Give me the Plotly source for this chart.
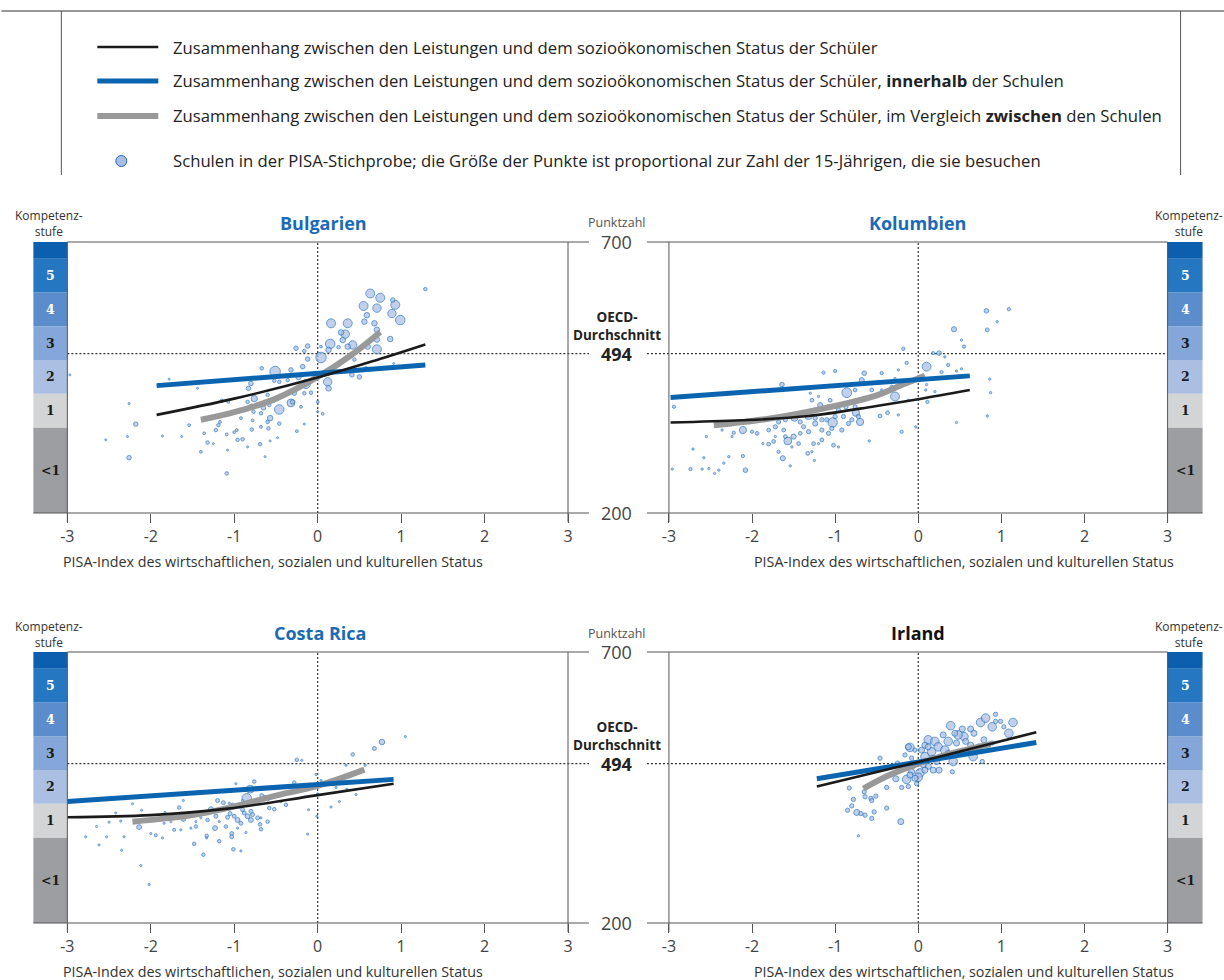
import plotly.graph_objects as go

W, H = 1224, 980
FONT = "Open Sans"

# ---------------- data ----------------
level_bounds = [200, 357.8, 420.1, 482.4, 544.7, 607.0, 669.3, 700]
level_labels = ["<1", "1", "2", "3", "4", "5", ""]
level_colors = ["#9d9ea1", "#d3d4d6", "#abbfe3", "#85a6d8", "#5b8ccb", "#2677c1", "#0b5fae"]
level_text_colors = ["#1a1a1a", "#1a1a1a", "#1a1a1a", "#1a1a1a", "#ffffff", "#ffffff", "#ffffff"]
oecd_mean = 494
x_ticks = [-3, -2, -1, 0, 1, 2, 3]
x_tick_labels = ["-3", "-2", "-1", "0", "1", "2", "3"]

# Bulgarien
bg_x = [0.63, 0.75, 0.93, 0.55, 0.71, 0.89, 0.99, 0.16, 0.36, 0.33, 0.15, 0.42, 0.71, 0.04, -0.51, 0.12, -0.14, -0.46, -0.32,
        0.90, 0.59, 0.56, 0.68, 0.28, 0.71, 0.71, 0.87, 0.30, 0.25, 0.36, 0.60, 0.13, -0.12, -0.26, -0.16, -0.12, 0.04, 0.44,
        0.41, 0.50, 0.13, -0.08, -0.16, -0.28, 0.00, 0.06, 0.00, -0.18, -0.32, -0.23, -0.36, -0.46, -0.52, -0.67, -0.80, -0.83,
        -0.76, -0.60, -0.52, -0.84, -1.15, -1.07, -0.79, -0.72, -0.65, -0.58, -0.30, -0.20, -0.16, -0.25, -0.77, -0.68, -0.57,
        -0.60, -0.46, -0.78, -0.68, -0.59, -0.79, -0.92, -1.17, -1.19, -1.22, -1.36, -1.54, -1.09, -1.00, -0.97, -0.96, -0.90,
        -1.32, -1.25, -0.69, -0.57, -0.48, -0.84, -1.08, -1.40, -1.63, -1.86, -2.28, -2.54, -2.26, -2.18, -2.26, -1.09, -0.63,
        -1.44, -1.78, -2.97, 0.91, 0.58, 1.29]
bg_y = [605, 597, 584, 582, 578, 568, 556, 550, 550, 530, 512, 510, 502, 487, 461, 442, 438, 391, 403,
        593, 565, 553, 550, 533, 538, 520, 521, 519, 506, 507, 507, 501, 508, 504, 499, 484, 507, 483,
        455, 451, 430, 422, 421, 421, 405, 383, 387, 470, 464, 451, 445, 442, 444, 467, 439, 430,
        411, 418, 408, 405, 407, 405, 396, 400, 394, 399, 405, 396, 364, 351, 387, 384, 375,
        368, 365, 371, 359, 356, 354, 375, 368, 362, 353, 347, 362, 345, 349, 353, 335, 336,
        330, 328, 327, 333, 339, 322, 316, 313, 341, 342, 341, 335, 402, 364, 302, 273, 304,
        430, 447, 455, 476, 467, 613]
bg_n = [80, 80, 80, 80, 70, 70, 90, 80, 80, 70, 90, 70, 80, 110, 110, 70, 80, 90, 60,
        20, 30, 30, 30, 30, 30, 30, 30, 30, 12, 30, 30, 30, 20, 20, 12, 20, 8, 12,
        20, 20, 30, 12, 12, 20, 8, 8, 4, 20, 20, 30, 12, 12, 12, 12, 20, 20,
        40, 12, 12, 12, 12, 8, 30, 12, 20, 12, 20, 8, 4, 8, 12, 12, 30,
        12, 12, 8, 8, 12, 12, 8, 8, 12, 12, 8, 8, 8, 8, 8, 12, 12,
        12, 4, 12, 4, 4, 4, 4, 8, 4, 4, 4, 4, 4, 20, 20, 12, 4,
        4, 4, 4, 4, 12, 12]
bg_total_x = [-1.93, -1.0, 0.0, 0.7, 1.29]
bg_total_y = [381, 411, 450, 482, 511]
bg_within_x = [-1.93, 1.29]
bg_within_y = [435, 473]
bg_between_x = [-1.40, -1.0, -0.5, 0.0, 0.4, 0.75]
bg_between_y = [372, 386, 411, 451, 491, 534]

# Kolumbien
co_x = [0.10, -0.28, -0.86, -1.03, -1.57, -2.11, -0.75, -0.70, -1.32, -1.49,
        0.82, 0.43, 0.83, -1.64, -1.14, -1.00, -0.65, -0.68, -0.44, -0.24, -0.14, -0.18, 0.25, 0.18, 0.28, 0.46, 0.52,
        0.55, 0.52, 1.09, 0.95, 0.32, 0.36, 0.10, 0.20, 0.11, -0.20, -0.59, -1.02, -0.96, -1.16, -1.25, -1.33, -1.28,
        -1.54, -1.63, -1.68, -1.80, -1.87, -2.08, -2.11, -2.58, -2.74, -2.71, -2.96, -2.94, -2.55, -2.36, -2.22, -2.24,
        -2.00, -1.94, -1.80, -1.72, -1.68, -1.60, -1.54, -1.42, -1.38, -1.42, -1.32, -1.44, -1.50, -1.24, -1.16, -1.08,
        -1.26, -1.20, -0.92, -0.84, -0.80, -0.72, -0.46, -0.37, -0.24, -0.12, -0.76, -0.96, -1.08, -1.18, -1.28, -1.30,
        -1.20, -1.06, -0.76, -0.56, -0.44, -0.32, -0.28, 0.09, -0.03, 0.46, 0.83, 0.86, 0.87, -2.45, -2.34, -2.28, -2.52,
        -2.60, -2.40, -0.87, -0.90, -1.00, -1.10, -1.24, -1.62, -1.72, -1.74, -1.60, -1.52, -1.16, -1.04]
co_y = [470, 415, 422, 367, 333, 353, 385, 368, 379, 376,
        573, 539, 538, 437, 459, 462, 458, 445, 458, 464, 477, 503, 495, 495, 460, 462, 466,
        507, 519, 576, 553, 488, 473, 437, 424, 405, 350, 333, 325, 322, 335, 297, 310, 313,
        287, 301, 313, 327, 328, 279, 305, 302, 281, 318, 281, 396, 341, 353, 348, 341,
        350, 347, 353, 359, 368, 372, 381, 368, 359, 347, 350, 328, 341, 365, 353, 347,
        328, 328, 353, 365, 372, 378, 379, 385, 381, 408, 396, 390, 396, 399, 408, 421,
        415, 408, 427, 427, 427, 433, 448, 427, 359, 367, 379, 447, 422, 273, 292, 304, 282,
        281, 279, 396, 378, 378, 372, 375, 353, 341, 332, 341, 322, 372, 356]
co_n = [45, 45, 55, 50, 35, 30, 30, 30, 30, 30,
        12, 15, 8, 12, 6, 6, 12, 15, 6, 3, 6, 6, 12, 6, 6, 3, 3,
        6, 3, 6, 3, 3, 6, 3, 3, 6, 6, 3, 8, 3, 8, 3, 8, 3,
        3, 15, 6, 8, 3, 12, 6, 3, 6, 3, 3, 6, 3, 3, 6, 3,
        6, 8, 8, 10, 10, 10, 12, 10, 10, 8, 10, 8, 15, 15, 10, 10,
        8, 3, 10, 10, 10, 10, 8, 8, 3, 3, 10, 10, 10, 15, 8, 3,
        3, 8, 8, 8, 3, 6, 3, 3, 3, 3, 3, 3, 3, 3, 3, 3, 3,
        3, 3, 10, 10, 10, 10, 10, 8, 3, 8, 8, 3, 10, 10]
co_total_x = [-2.98, -2.12, -1.32, -0.52, 0.0, 0.62]
co_total_y = [367, 371, 379, 397, 410, 427]
co_within_x = [-2.98, 0.62]
co_within_y = [413, 453]
co_between_x = [-2.46, -1.8, -1.32, -0.52, -0.2, 0.08]
co_between_y = [362, 374, 387, 416, 436, 453]

# Costa Rica
cr_x = [-0.85, -0.81, 0.77, 0.68, 0.42, -0.25, -0.19, -0.28, -0.67, -0.76, -0.98, -1.20, -1.13, -1.66, -1.28, -2.14,
        -1.61, -1.22, -1.23, -1.05, -1.08, -1.00, -0.96, -0.92, -0.88, -0.84, -0.90, -0.80, -0.78, -0.72, -0.68, -0.60,
        -0.69, -0.68, -0.80, -0.58, -0.52, -0.38, -0.44, -1.03, -1.03, -1.33, -1.33, -1.48, -1.18, -1.37, -1.01, -0.92,
        -0.86, -0.96, -1.10, -1.18, -1.32, -1.40, -1.46, -1.46, -1.52, -1.64, -1.72, -1.86, -1.94, -2.00, -2.22, -2.11,
        -2.12, -2.02, -2.35, -2.32, -2.53, -2.62, -2.78, -2.65, -2.36, -2.50, -2.42, -1.84, -1.76, -1.83, -1.61, -1.06,
        -0.02, 0.04, 0.34, 0.57, 1.05, 0.22, 0.35, 0.46, 0.26, 0.16, -0.11, -0.12, 0.00, -0.01, -0.52, -0.63, -0.68,
        -0.76, -0.60, -0.84, -0.94, -0.90, -1.06, -1.02]
cr_y = [430, 447, 534, 522, 511, 501, 500, 459, 435, 461, 457, 426, 422, 413, 410, 377,
        392, 397, 375, 402, 395, 397, 390, 384, 403, 397, 409, 390, 400, 394, 394, 387,
        382, 373, 406, 412, 410, 418, 424, 365, 359, 361, 357, 346, 351, 326, 336, 333,
        367, 375, 378, 387, 390, 394, 387, 378, 375, 372, 372, 357, 362, 365, 420, 408,
        306, 271, 334, 359, 359, 344, 359, 378, 388, 386, 403, 384, 387, 404, 426, 446,
        474, 463, 491, 491, 544, 450, 447, 437, 424, 414, 409, 364, 438, 397, 435, 432, 430,
        427, 427, 418, 415, 426, 421, 418]
cr_n = [60, 40, 20, 10, 8, 8, 3, 8, 10, 8, 3, 10, 10, 8, 15, 15,
        15, 10, 15, 10, 10, 10, 15, 10, 10, 15, 10, 15, 10, 10, 3, 8,
        8, 8, 10, 8, 8, 8, 3, 10, 10, 8, 3, 8, 8, 8, 8, 3,
        3, 3, 8, 3, 8, 3, 3, 8, 3, 3, 6, 3, 6, 3, 3, 3,
        3, 3, 3, 3, 3, 3, 3, 3, 3, 3, 3, 3, 3, 3, 3, 3,
        3, 3, 3, 3, 3, 3, 3, 3, 3, 3, 3, 3, 3, 3, 3, 8, 3,
        3, 3, 8, 8, 3, 3, 8]
cr_total_x = [-3.0, -2.0, -1.08, 0.0, 0.91]
cr_total_y = [395, 399, 411, 436, 457]
cr_within_x = [-3.0, 0.91]
cr_within_y = [424, 465]
cr_between_x = [-2.22, -1.5, -1.08, -0.5, 0.0, 0.56]
cr_between_y = [387, 399, 412, 435, 453, 483]

# Irland
ie_x = [0.75, 0.81, 0.89, 1.14, 1.09, 0.39, 0.12, 0.20, -0.10, 0.02, 0.00, -0.14, 0.42, 0.66, 0.36, 0.55, 0.48, 0.16,
        0.08, 0.24, 0.32,
        0.93, 0.93, 0.99, 1.03, 0.63, 0.53, 0.44, 0.67, 0.30, 0.57, 0.46, 0.63, 0.73, 0.79, 0.04, -0.04, 0.08, 0.12,
        0.36, 0.28, 0.18, 0.22, 0.12, 0.06, 0.08, 0.18, 0.25, 0.41, -0.06, -0.08, -0.04, -0.10, -0.02, -0.12, -0.27,
        -0.20, -0.25, -0.08, -0.16, -0.12, -0.46, -0.38, -0.51, -0.57, -0.64, -0.65, -0.56, -0.78, -0.83, -0.80, -0.85,
        -0.74, -0.69, -0.64, -0.56, -0.53, -0.38, -0.72, -0.21, 0.77, 0.89]
ie_y = [570, 578, 562, 570, 550, 564, 538, 535, 524, 477, 469, 465, 498, 507, 535, 544, 547, 516,
        507, 525, 519,
        585, 572, 572, 562, 558, 558, 550, 550, 547, 535, 532, 528, 525, 538, 519, 519, 528, 525,
        513, 507, 504, 498, 489, 492, 482, 482, 482, 479, 489, 479, 467, 473, 457, 452, 466,
        450, 495, 504, 510, 525, 504, 450, 434, 430, 433, 442, 426, 428, 449, 416, 408,
        404, 402, 399, 393, 405, 412, 361, 387, 498, 532]
ie_n = [40, 40, 40, 40, 40, 40, 40, 40, 40, 40, 40, 40, 40, 40, 40, 40, 40, 40,
        40, 40, 40,
        10, 10, 10, 10, 20, 20, 20, 20, 20, 20, 20, 20, 20, 20, 20, 10, 20, 20,
        20, 20, 20, 20, 20, 20, 20, 20, 20, 10, 10, 20, 20, 20, 10, 10, 20,
        10, 10, 10, 10, 20, 10, 10, 10, 10, 10, 10, 10, 10, 10, 10, 10,
        20, 10, 10, 10, 10, 10, 3, 20, 10, 10]
ie_total_x = [-1.22, 0.0, 1.42]
ie_total_y = [452, 497, 552]
ie_within_x = [-1.22, 1.42]
ie_within_y = [466, 533]
ie_between_x = [-0.66, -0.36, 0.0, 0.4, 0.87]
ie_between_y = [448, 472, 494, 513, 530]

countries = ["Bulgarien", "Kolumbien", "Costa Rica", "Irland"]
title_colors = ["#1b6ab5", "#1b6ab5", "#1b6ab5", "#111111"]

legend_texts = [
    "Zusammenhang zwischen den Leistungen und dem sozioökonomischen Status der Schüler",
    "Zusammenhang zwischen den Leistungen und dem sozioökonomischen Status der Schüler, <b>innerhalb</b> der Schulen",
    "Zusammenhang zwischen den Leistungen und dem sozioökonomischen Status der Schüler, im Vergleich <b>zwischen</b> den Schulen",
    "Schulen in der PISA-Stichprobe; die Größe der Punkte ist proportional zur Zahl der 15-Jährigen, die sie besuchen",
]
x_title = "PISA-Index des wirtschaftlichen, sozialen und kulturellen Status"

# ---------------- styling ----------------
C_BLACK = "#1a1a1a"
C_BLUE = "#0a64b0"
C_GRAY = "#999999"
C_FILL = "#a9bde3"
C_EDGE = "#1f6fbf"
C_FRAME = "#555555"
marker_sizeref = [2.0, 1.15, 1.3, 1.1]

# horizontal layout calibration (stretch around the central score axis)
CX, KX = 615.0, 1.0092


def px(x):
    return (CX + (x - CX) * KX) / W


def py(y):
    return 1 - y / H


def ann(text, x, y, size, color="#222222", xref="paper", yref="paper", xanchor="center", family=FONT, **kw):
    d = dict(text=text, xref=xref, yref=yref, x=x, y=y, xanchor=xanchor, yanchor="middle", showarrow=False,
             font=dict(family=family, size=size, color=color))
    d.update(kw)
    return d


fig = go.Figure()

panel_data = [
    (bg_x, bg_y, bg_n, bg_total_x, bg_total_y, bg_within_x, bg_within_y, bg_between_x, bg_between_y),
    (co_x, co_y, co_n, co_total_x, co_total_y, co_within_x, co_within_y, co_between_x, co_between_y),
    (cr_x, cr_y, cr_n, cr_total_x, cr_total_y, cr_within_x, cr_within_y, cr_between_x, cr_between_y),
    (ie_x, ie_y, ie_n, ie_total_x, ie_total_y, ie_within_x, ie_within_y, ie_between_x, ie_between_y),
]
axis_ids = [("x", "y"), ("x2", "y2"), ("x3", "y3"), ("x4", "y4")]

for (xs, ys, ns, tx, ty, wx, wy, bx, by), (xa, ya), sref in zip(panel_data, axis_ids, marker_sizeref):
    fig.add_trace(go.Scatter(
        x=xs, y=ys, mode="markers", xaxis=xa, yaxis=ya, showlegend=False, hoverinfo="skip",
        marker=dict(size=ns, sizemode="area", sizeref=sref, sizemin=1, color=C_FILL,
                    line=dict(color=C_EDGE, width=1))))
    fig.add_trace(go.Scatter(x=bx, y=by, mode="lines", xaxis=xa, yaxis=ya, showlegend=False,
                             hoverinfo="skip", line=dict(color=C_GRAY, width=6, shape="spline")))
    fig.add_trace(go.Scatter(x=wx, y=wy, mode="lines", xaxis=xa, yaxis=ya, showlegend=False,
                             hoverinfo="skip", line=dict(color=C_BLUE, width=5)))
    fig.add_trace(go.Scatter(x=tx, y=ty, mode="lines", xaxis=xa, yaxis=ya, showlegend=False,
                             hoverinfo="skip", line=dict(color=C_BLACK, width=2.6, shape="spline")))

# geometry in pixels
LEFT = (66, 567)
RIGHT = (668, 1167)
ROWS = [(242, 513), (652, 923)]

xdom = {"L": [px(LEFT[0]), px(LEFT[1])], "R": [px(RIGHT[0]), px(RIGHT[1])]}
ydom = [[py(ROWS[0][1]), py(ROWS[0][0])], [py(ROWS[1][1]), py(ROWS[1][0])]]

xaxis_common = dict(range=[-3, 3], tickvals=x_ticks, ticktext=x_tick_labels, ticks="outside", ticklen=9,
                    tickcolor=C_FRAME, tickwidth=1, showgrid=False, zeroline=False, showline=False,
                    tickfont=dict(family=FONT, size=16, color="#444444"), fixedrange=True)
yaxis_common = dict(range=[200, 700], showgrid=False, zeroline=False, showline=False, showticklabels=False,
                    ticks="", fixedrange=True)

layout_axes = {}
specs = [("L", 0), ("R", 0), ("L", 1), ("R", 1)]
for i, (side, row) in enumerate(specs):
    n = "" if i == 0 else str(i + 1)
    layout_axes["xaxis" + n] = dict(xaxis_common, domain=xdom[side], anchor="y" + n)
    layout_axes["yaxis" + n] = dict(yaxis_common, domain=ydom[row], anchor="x" + n)

shapes = []
annotations = []


def pline(x0, y0, x1, y1, color=C_FRAME, width=1, dash=None, layer="above"):
    d = dict(type="line", xref="paper", yref="paper", x0=px(x0), y0=py(y0), x1=px(x1), y1=py(y1),
             line=dict(color=color, width=width), layer=layer)
    if dash:
        d["line"]["dash"] = dash
    return d


# legend box
shapes.append(pline(0, 11, 1224, 11, color="#333333", width=1.2))
shapes.append(pline(60, 11, 60, 175))
shapes.append(pline(1180, 11, 1180, 175))
shapes.append(pline(96, 47, 157, 47, color=C_BLACK, width=2.6))
shapes.append(pline(96, 81, 157, 81, color=C_BLUE, width=5))
shapes.append(pline(96, 116, 157, 116, color=C_GRAY, width=6))
shapes.append(dict(type="circle", xref="paper", yref="paper", x0=px(114.5), x1=px(125.5), y0=py(166.5),
                   y1=py(155.5), fillcolor=C_FILL, line=dict(color=C_EDGE, width=1)))
for txt, yy in zip(legend_texts, [47, 81, 116, 161]):
    annotations.append(ann(txt, px(170), py(yy), 16.7, xanchor="left"))

for row, (T, B) in enumerate(ROWS):
    yref = "y" if row == 0 else "y3"
    # frame
    shapes.append(pline(66, T, 588, T))
    shapes.append(pline(646, T, 1167, T))
    shapes.append(pline(32, B, 588, B))
    shapes.append(pline(646, B, 1202, B))
    for xv in (66, 567, 668, 1167):
        shapes.append(pline(xv, T, xv, B + 9))
    # level bands
    for bx0, bx1, cx in ((32, 66, 49), (1167, 1202, 1185)):
        for lo, hi, col, lab, tcol in zip(level_bounds[:-1], level_bounds[1:], level_colors, level_labels,
                                          level_text_colors):
            shapes.append(dict(type="rect", xref="paper", yref=yref, x0=px(bx0), x1=px(bx1), y0=lo, y1=hi,
                               fillcolor=col, line=dict(width=0), layer="below"))
            if lab:
                annotations.append(ann("<b>" + lab + "</b>", px(cx), (lo + hi) / 2, 12.5, color=tcol,
                                       yref=yref, family="DejaVu Serif"))
    for cx in (48, 1188):
        annotations.append(ann("Kompetenz-<br>stufe", px(cx), py(T - 18), 12, color="#333333"))
    # OECD mean dashed line
    for xa, xb in ((66, 588), (646, 1167)):
        shapes.append(dict(type="line", xref="paper", yref=yref, x0=px(xa), x1=px(xb), y0=oecd_mean,
                           y1=oecd_mean, line=dict(color="#333333", width=1.2, dash="2px,2px"), layer="below"))
    # central score axis labels
    annotations.append(ann("Punktzahl", px(616), py(T - 19), 12.5, color="#555555"))
    annotations.append(ann("700", px(616), 700, 18, color="#444444", yref=yref))
    annotations.append(ann("200", px(616), 200, 18, color="#444444", yref=yref))
    annotations.append(ann("<b>OECD-<br>Durchschnitt</b>", px(616), oecd_mean, 13.5, yref=yref, yshift=28))
    annotations.append(ann("<b>494</b>", px(616), oecd_mean, 18, yref=yref))
    # x axis titles
    annotations.append(ann(x_title, px(60), py(B + 48), 14.3, color="#333333", xanchor="left"))
    annotations.append(ann(x_title, px(1175), py(B + 48), 14.3, color="#333333", xanchor="right"))

# vertical dashed lines at index 0
for xa, ya in axis_ids:
    shapes.append(dict(type="line", xref=xa, yref=ya, x0=0, x1=0, y0=200, y1=700,
                       line=dict(color="#333333", width=1.2, dash="2px,2px"), layer="below"))

# country titles
for name, col, (cx, cy) in zip(countries, title_colors, [(322, 223), (917, 223), (319, 633), (917, 633)]):
    annotations.append(ann("<b>" + name + "</b>", px(cx), py(cy), 18, color=col))

fig.update_layout(
    width=W, height=H, autosize=False, margin=dict(l=0, r=0, t=0, b=0),
    paper_bgcolor="white", plot_bgcolor="white", showlegend=False, hovermode=False,
    shapes=shapes, annotations=annotations, **layout_axes)

fig.write_html("out.html", config={"displayModeBar": False, "staticPlot": True},
               post_script="document.body.style.margin='0px';document.body.style.overflow='hidden';")
